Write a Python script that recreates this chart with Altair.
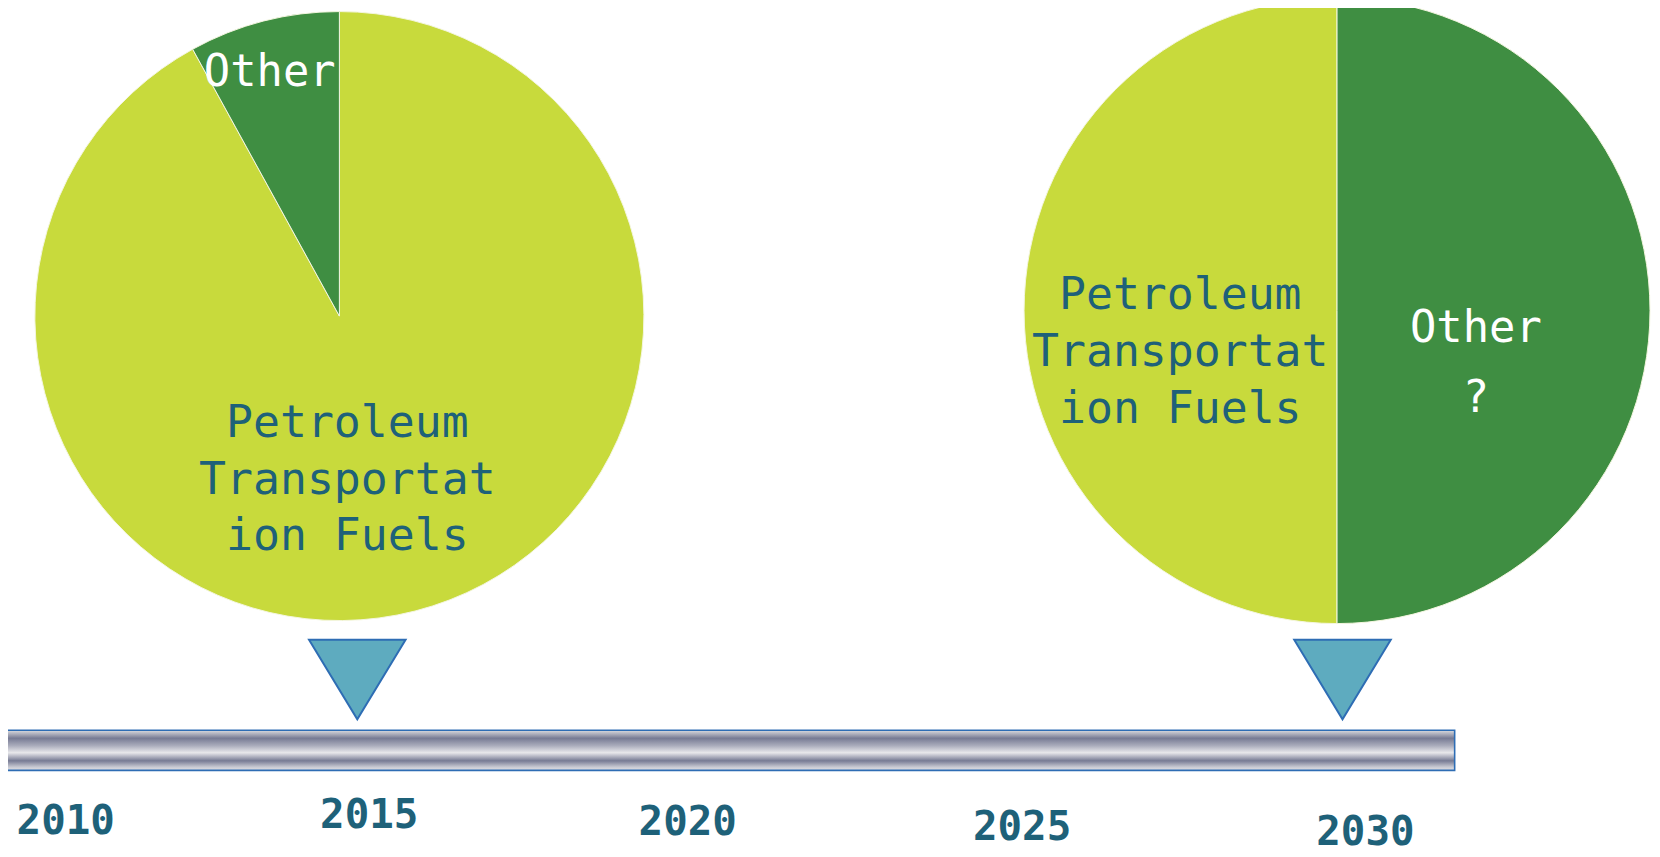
import altair as alt
import pandas as pd

# ---------------- data ----------------
years = [2010, 2015, 2020, 2025, 2030]
year_labels = ["2010", "2015", "2020", "2025", "2030"]
timeline_span = [2009.0, 2031.3]
milestones = [2015, 2030]

categories = ["Petroleum Transportation Fuels", "Other"]
share_2015 = [92, 8]
share_2030 = [50, 50]
slot_2015 = [0, 1]   # clockwise order from 12 o'clock
slot_2030 = [1, 0]
display_2015 = ["Petroleum\nTransportat\nion Fuels", "Other"]
display_2030 = ["Petroleum\nTransportat\nion Fuels", "Other\n?"]

# ---------------- styling ----------------
LIGHT = "#c8da3c"
DARK = "#3f8e42"
TEAL = "#1e6179"
year_scale = alt.Scale(domain=years, range=[66, 371, 691, 1027, 1372], zero=False, nice=False)
color_scale = alt.Scale(domain=categories, range=[LIGHT, DARK])

def X(field):
    return alt.X(field, type="quantitative", scale=year_scale, axis=None)

layers = []

# pies
pie_specs = [
    (2015, share_2015, slot_2015, -30, 315.5, 306),
    (2030, share_2030, slot_2030, -28.5, 310, 314.5),
]
for yr, shares, slots, xoff, cy, r in pie_specs:
    df = pd.DataFrame({"category": categories, "share": shares, "slot": slots})
    layers.append(
        alt.Chart(df).mark_arc(radius=r, stroke="#f4f6e0", strokeWidth=1, xOffset=xoff).encode(
            x=alt.XDatum(yr, type="quantitative", scale=year_scale, axis=None),
            y=alt.value(cy),
            theta=alt.Theta("share:Q", stack=True),
            color=alt.Color("category:N", scale=color_scale, legend=None),
            order=alt.Order("slot:Q"),
        )
    )

# pie labels  (year, display list, index, dx, baseline y, colour, size, line height)
label_specs = [
    (2015, display_2015, 0, -22, 437, TEAL, 45, 57),
    (2015, display_2015, 1, -100, 84, "#ffffff", 44, 57),
    (2030, display_2030, 0, -186, 308, TEAL, 45, 57.5),
    (2030, display_2030, 1, 111, 342, "#ffffff", 44, 70),
]
for yr, disp, i, dx, by, col, fs, lh in label_specs:
    df = pd.DataFrame({"year": [yr], "label": [disp[i]]})
    layers.append(
        alt.Chart(df).mark_text(
            font="DejaVu Sans Mono", fontSize=fs, color=col, align="center",
            baseline="alphabetic", lineBreak="\n", lineHeight=lh, dx=dx,
        ).encode(x=X("year"), y=alt.value(by), text="label:N")
    )

# timeline bar
bar_df = pd.DataFrame({"start": [timeline_span[0]], "end": [timeline_span[1]]})
gradient = {
    "gradient": "linear", "x1": 0, "y1": 0, "x2": 0, "y2": 1,
    "stops": [
        {"offset": 0.0, "color": "#dcdce0"},
        {"offset": 0.2, "color": "#777b94"},
        {"offset": 0.38, "color": "#a9abbb"},
        {"offset": 0.56, "color": "#e8e8eb"},
        {"offset": 0.76, "color": "#777b94"},
        {"offset": 0.92, "color": "#c9cad3"},
        {"offset": 1.0, "color": "#dfdfe3"},
    ],
}
layers.append(
    alt.Chart(bar_df).mark_rect(fill=gradient, stroke="#2e6db4", strokeWidth=1.6).encode(
        x=X("start"), x2="end", y=alt.value(731.7), y2=alt.value(772)
    )
)

# triangles
tri_offsets = {2015: -12, 2030: -23}
for m in milestones:
    df = pd.DataFrame({"year": [m]})
    layers.append(
        alt.Chart(df).mark_point(
            shape="M-1,-0.825L1,-0.825L0,0.825Z", size=9409, filled=True,
            fill="#5eabbf", stroke="#2e6db4", strokeWidth=2, opacity=1,
            xOffset=tri_offsets[m],
        ).encode(x=X("year"), y=alt.value(680.7))
    )

# year labels
label_baselines = [836, 830, 837, 842, 847]
for yv, lab, by in zip(years, year_labels, label_baselines):
    df = pd.DataFrame({"year": [yv], "label": [lab]})
    layers.append(
        alt.Chart(df).mark_text(
            font="DejaVu Sans Mono", fontWeight="bold", fontSize=41, color=TEAL,
            align="center", baseline="alphabetic",
        ).encode(x=X("year"), y=alt.value(by), text="label:N")
    )

chart = alt.layer(*layers).properties(
    width=1660, height=857,
    padding={"left": -8, "top": -8, "right": 0, "bottom": 0},
    autosize=alt.AutoSizeParams(type="none"),
).configure_view(stroke=None)

chart.save("out.html", embed_options={"renderer": "svg", "actions": False})
